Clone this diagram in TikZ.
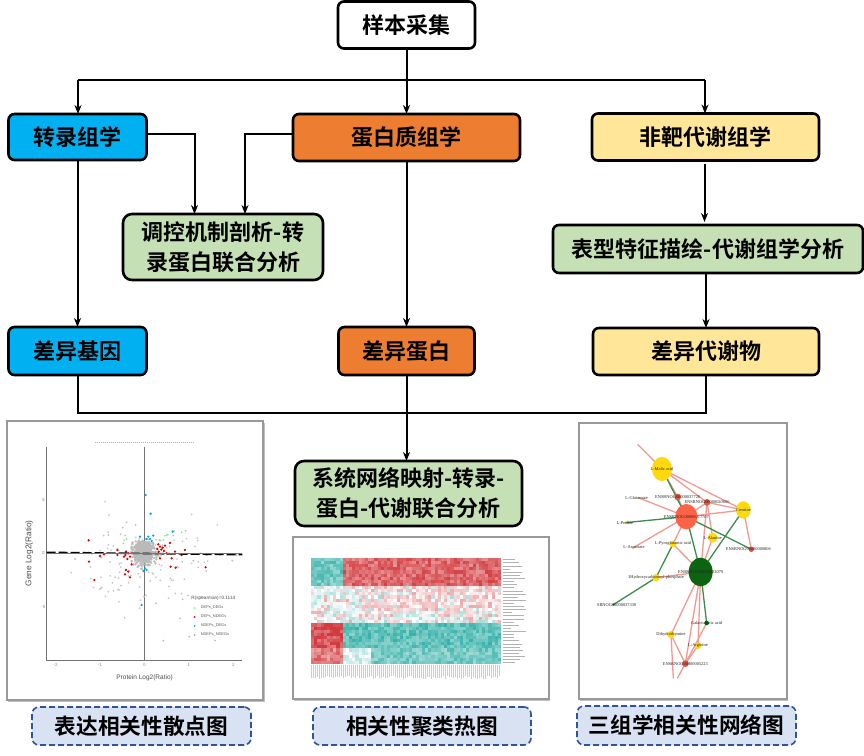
\documentclass[tikz,border=0pt]{standalone}
\usepackage{fontspec}
\newfontfamily\cjk[BoldFont={Noto Sans CJK SC Bold}]{Noto Sans CJK SC}
\newfontfamily\lsans{Liberation Sans}
\newfontfamily\lserif{Liberation Serif}
\usetikzlibrary{arrows.meta}
\definecolor{cblue}{HTML}{00B0F0}
\definecolor{corange}{HTML}{ED7D31}
\definecolor{cyellow}{HTML}{FFE699}
\definecolor{cgreen}{HTML}{C5E0B4}
\definecolor{capfill}{HTML}{D9E2F3}
\definecolor{capline}{HTML}{2F5597}
\definecolor{hred}{HTML}{D23A3E}
\definecolor{hteal}{HTML}{35B0A8}
\definecolor{npink}{HTML}{F29A90}
\definecolor{ngreen}{HTML}{3F8A4F}
\definecolor{nyellow}{HTML}{FFD90F}
\definecolor{nred}{HTML}{E8503F}
\definecolor{norange}{HTML}{FF6347}
\definecolor{ndark}{HTML}{0B6410}
\tikzset{
  flowbox/.style={draw=black,line width=2.6pt,rounded corners=6pt,inner sep=0pt,outer sep=0pt,
    font=\cjk\bfseries\fontsize{22}{30}\selectfont,align=center},
  flowline/.style={draw=black,line width=2pt},
  flowarrow/.style={flowline,-{Stealth[length=9pt,width=7pt]}},
  captionbox/.style={draw=capline,fill=capfill,line width=1.6pt,dash pattern=on 6pt off 3pt,rounded corners=7pt,
    inner sep=0pt,outer sep=0pt,font=\cjk\bfseries\fontsize{21.7}{26}\selectfont},
  panel/.style={draw=black!40,fill=white,line width=1.5pt},
  pshadow/.style={fill=black!25},
  pinkedge/.style={draw=npink,line width=1.3pt},
  greenedge/.style={draw=ngreen,line width=1.3pt},
  netlabel/.style={font=\lserif\fontsize{4.4}{5}\selectfont,text=black!85,inner sep=0pt},
  plotlabel/.style={font=\lsans\fontsize{6.5}{7}\selectfont,text=black!70,inner sep=0pt},
  ticklabel/.style={font=\lsans\fontsize{4.5}{5}\selectfont,text=black!45,inner sep=0pt},
  legendlabel/.style={font=\lsans\fontsize{3.9}{5}\selectfont,text=black!65,inner sep=0pt,anchor=west},
}
\begin{document}
\begin{tikzpicture}[x=1pt,y=-1pt]
\useasboundingbox (0,0) rectangle (864,755);
\fill[white] (0,0) rectangle (864,755);

% ---------- flow boxes
\node[flowbox,fill=white,minimum width=137pt,minimum height=47pt] (sample) at (406.5,25) {样本采集};
\node[flowbox,fill=cblue,minimum width=138pt,minimum height=46pt] (trans) at (77.5,137) {转录组学};
\node[flowbox,fill=corange,minimum width=227pt,minimum height=47pt] (prot) at (406.5,137.5) {蛋白质组学};
\node[flowbox,fill=cyellow,minimum width=227pt,minimum height=47pt] (metab) at (705.5,137) {非靶代谢组学};
\node[flowbox,fill=cgreen,minimum width=200pt,minimum height=66pt,rounded corners=9pt] (reg) at (223,247) {调控机制剖析-转\\录蛋白联合分析};
\node[flowbox,fill=cgreen,minimum width=310pt,minimum height=48pt] (pheno) at (708,249) {表型特征描绘-代谢组学分析};
\node[flowbox,fill=cblue,minimum width=138pt,minimum height=48pt] (dgene) at (77.5,351) {差异基因};
\node[flowbox,fill=corange,minimum width=136pt,minimum height=48pt] (dprot) at (406.5,351) {差异蛋白};
\node[flowbox,fill=cyellow,minimum width=226pt,minimum height=47pt] (dmet) at (706,351.5) {差异代谢物};
\node[flowbox,fill=cgreen,minimum width=227pt,minimum height=65pt,rounded corners=9pt] (sys) at (408.5,493.5) {系统网络映射-转录-\\蛋白-代谢联合分析};

% ---------- connectors
\coordinate (busL) at (78,80);
\coordinate (busR) at (705,80);
\coordinate (busB) at (78,413);
\coordinate (busBR) at (706,413);
\draw[flowarrow] (sample.south) -- (prot.north);
\draw[flowline] (busL) -- (busR);
\draw[flowarrow] (busL) -- (trans.north-|busL);
\draw[flowarrow] (busR) -- (metab.north-|busR);
\coordinate (ta) at (194.5,133.5);
\coordinate (pa) at (245,133.5);
\draw[flowarrow] (trans.east|-ta) -- (ta) -- (ta|-reg.north);
\draw[flowarrow] (prot.west|-pa) -- (pa) -- (pa|-reg.north);
\coordinate (gapstart) at (704.5,164);
\coordinate (gapend) at (704.5,222);
\draw[flowarrow] (gapstart) -- (gapend);
\draw[flowarrow] (pheno.south-|busBR) -- (dmet.north-|busBR);
\draw[flowarrow] (trans.south) -- (dgene.north);
\draw[flowarrow] (prot.south) -- (dprot.north);
\draw[flowline] (dgene.south-|busB) -- (busB) -- (busBR) -- (dmet.south-|busBR);
\draw[flowarrow] (dprot.south) -- (dprot.south|-sys.north);

% ---------- scatter panel
\fill[pshadow] (8,423) rectangle (265,702);
\draw[panel] (7,421) rectangle (263,700);
\begin{scope}[shift={(0,415)},x=0.3333pt,y=-0.3333pt]
  \draw[black!30,line width=1.2pt,dash pattern=on 1pt off 1pt] (285,82) -- (582,82);
  \draw[black!55,line width=0.9pt] (140,95) -- (140,735) -- (727,735);
  \draw[black!55,line width=0.9pt] (433,95) -- (433,735);
  \pgfmathsetseed{4217}
  \foreach \i in {1,...,130}{
    \pgfmathsetmacro\px{433+(rnd+rnd+rnd-1.5)*190}
    \pgfmathsetmacro\py{430+(rnd+rnd+rnd-1.5)*130}
    \fill[black!22] (\px,\py) circle (3);
  }
  \foreach \px/\py in {225/432,300/522,305/518,325/360,380/322,368/338,407/330,548/553,540/610,568/665,490/677,645/677,432/545,468/565,697/437,620/420,660/420,710/420,580/437,602/415}{
    \fill[black!25] (\px,\py) circle (3.2);
  }
  \foreach \i in {1,...,220}{
    \pgfmathsetmacro\px{433+(rnd+rnd-1)*44}
    \pgfmathsetmacro\py{416+(rnd+rnd-1)*46}
    \fill[black!27] (\px,\py) circle (4);
  }
  \fill[black!27] (432,390) ellipse [x radius=22,y radius=12];
  \fill[black!27] (430,418) ellipse [x radius=30,y radius=26];
  \foreach \px/\py in {266/376,267/440,283/495,617/457,378/465,390/487,385/470,375/478,510/384,525/410,475/388,480/395,488/398,472/402,484/404,492/408,476/410,495/392,378/410,385/415,376/420,390/425,382/432,372/425,352/420,312/418,300/423,352/405,480/430,512/455,527/458,545/420,555/405,500/415,515/430,395/448}{
    \fill[red!85!black] (\px,\py) circle (3.8);
  }
  \foreach \px/\py in {437/240,452/296,420/365,425/570,445/365,455/378,440/372,460/362,450/372,518/350,435/460,440/465,430/468}{
    \fill[cblue!80!teal] (\px,\py) circle (3.8);
  }
  \foreach \px/\py in {545/352,557/347,520/362,490/375,380/372,370/385,500/360,478/375}{
    \fill[green!60!white] (\px,\py) circle (3);
  }
  \draw[black,line width=1.6pt,dash pattern=on 9pt off 3pt] (140,412) -- (727,419);
  \draw[black!55,line width=0.5pt] (140,415) -- (727,415);
  \node[plotlabel,font=\lsans\fontsize{8.3}{9}\selectfont,rotate=90] (ylab) at (88,415) {Gene Log2(Ratio)};
  \node[plotlabel] (xlab) at (434,790) {Protein Log2(Ratio)};
  \node[ticklabel] (xt1) at (167,749) {-2};
  \node[ticklabel] (xt2) at (300,749) {-1};
  \node[ticklabel] (xt3) at (433,749) {0};
  \node[ticklabel] (xt4) at (567,749) {1};
  \node[ticklabel] (xt5) at (700,749) {2};
  \node[ticklabel] (yt1) at (130,254) {5};
  \node[ticklabel] (yt2) at (130,415) {0};
  \node[ticklabel] (yt3) at (130,577) {-5};
  \node[plotlabel,font=\lsans\fontsize{4.7}{6}\selectfont] (rlab) at (640,550) {R(spearman)=0.1114};
  \fill[green!50!white] (584,579) circle (3);
  \fill[red!85!black] (584,606) circle (3);
  \fill[cblue!80!teal] (584,633) circle (3);
  \fill[black!35] (584,660) circle (3);
  \node[legendlabel] (lg1) at (602,579) {DEPs\_DEGs};
  \node[legendlabel] (lg2) at (602,606) {DEPs\_NDEGs};
  \node[legendlabel] (lg3) at (602,633) {NDEPs\_DEGs};
  \node[legendlabel] (lg4) at (602,660) {NDEPs\_NDEGs};
\end{scope}

% ---------- heatmap panel
\fill[pshadow] (294,539) rectangle (550,701);
\draw[panel] (293,537) rectangle (549,699);
\begin{scope}[shift={(311,558)}]
  \pgfmathsetseed{97}
  \foreach \cl in {0,...,59}{
    \foreach \rw in {0,...,33}{
      \def\tone{hred}\def\amp{50}\def\spread{42}
      \ifnum\rw<9
        \ifnum\cl<10 \def\tone{hteal}\def\amp{70}\else\def\tone{hred}\def\amp{76}\fi
      \else\ifnum\rw<21
        \def\amp{22}\def\spread{44}
        \pgfmathparse{rnd<(\cl<16?0.75:(\rw>16?0.55:0.12))?1:0}
        \ifdim\pgfmathresult pt>0.5pt \def\tone{hteal}\fi
      \else\ifnum\rw<29
        \ifnum\cl<10 \def\tone{hred}\def\amp{88}\else\def\tone{hteal}\def\amp{78}\fi
      \else
        \ifnum\cl<10 \def\tone{hred}\def\amp{65}\else
          \ifnum\cl<19 \def\tone{hteal}\def\amp{18}\else\def\tone{hteal}\def\amp{68}\fi
        \fi
      \fi\fi\fi
      \pgfmathtruncatemacro\pc{max(0,min(100,\amp+\spread*(rnd-0.5)))}
      \fill[\tone!\pc!white] ({\cl*190/60},{\rw*106/34}) rectangle ++(3.4,3.4);
    }
  }
  \foreach \rw in {0,...,33}{
    \pgfmathsetmacro\wd{6+18*rnd}
    \draw[black!30,line width=0.4pt] (192,{\rw*3.12+1.5}) -- ++(\wd,0);
  }
  \foreach \cl in {0,...,94}{
    \pgfmathsetmacro\ht{11+3*rnd}
    \draw[black!20,line width=1.3pt] ({\cl*2+0.5},107) -- ++(0,\ht);
  }
\end{scope}

% ---------- network panel
\fill[pshadow] (580,425) rectangle (788,701);
\draw[panel] (579,423) rectangle (787,699);
\begin{scope}[shift={(570,415)},x=0.3333pt,y=-0.3333pt]
  \coordinate (cMal) at (276,162);
  \coordinate (cOra) at (349,305);
  \coordinate (cGre) at (392,471);
  \coordinate (cCre) at (520,285);
  \coordinate (cR1) at (323,246);
  \coordinate (cR2) at (411,262);
  \coordinate (cAla) at (428,368);
  \coordinate (cPyr) at (309,387);
  \coordinate (cHyd) at (258,488);
  \coordinate (cR3) at (544,403);
  \coordinate (cGal) at (410,624);
  \coordinate (cDih) at (303,659);
  \coordinate (cArg) at (384,692);
  \coordinate (cR4) at (346,746);
  \coordinate (cGlu) at (205,248);
  \coordinate (cPro) at (165,323);
  \coordinate (cAsp) at (190,398);
  \coordinate (cSrn) at (130,569);
  \coordinate (endA) at (203,88);
  \coordinate (endB) at (310,790);
  \coordinate (endC) at (322,790);
  \foreach \ea/\eb in {endA/cMal,cMal/cR1,cMal/cR2,cMal/cCre,cGlu/cOra,cAsp/cOra,cOra/cCre,cOra/cR1,cOra/cR2,cR2/cCre,cOra/cPyr,cPyr/cGre,cHyd/cGre,cR2/cGre,cAla/cGre,cR2/cAla,cCre/cR3,cGre/cDih,cGre/cArg,cGre/cR4,cGal/cR4,cDih/cR4,cArg/cR4,cDih/endB,cR4/endC}{
    \draw[pinkedge] (\ea) -- (\eb);
  }
  \foreach \ea/\eb in {cMal/cOra,cPro/cOra,cOra/cGre,cOra/cR3,cCre/cGre,cPyr/cHyd,cHyd/cSrn,cGre/cGal}{
    \draw[greenedge] (\ea) -- (\eb);
  }
  \fill[nyellow] (cMal) ellipse [x radius=30,y radius=36];
  \fill[norange] (cOra) ellipse [x radius=33,y radius=38];
  \fill[ndark] (cGre) ellipse [x radius=36,y radius=43];
  \fill[nyellow] (cCre) ellipse [x radius=22,y radius=26];
  \foreach \nn/\nr/\cc in {cR1/10/nred,cR2/10/nred,cAla/15/nyellow,cPyr/10/nyellow,cHyd/11/nyellow,cR3/8/nred,cGal/7/ndark,cDih/11/nyellow,cArg/10/nyellow,cR4/10/nred,cGlu/3/nyellow,cPro/3/nyellow,cAsp/3/nyellow,cSrn/3/ndark}{
    \fill[\cc] (\nn) circle (\nr);
  }
  \node[netlabel] (lMal) at (276,162) {L-Malic acid};
  \node[netlabel] (lOra) at (349,305) {ENSRNOG00000017707};
  \node[netlabel] (lGre) at (392,471) {ENSRNOG00000003079};
  \node[netlabel] (lCre) at (520,285) {Creatine};
  \node[netlabel] (lR1) at (323,247) {ENSRNOG00000037726};
  \node[netlabel] (lR2) at (411,262) {ENSRNOG00000020606};
  \node[netlabel] (lAla) at (428,368) {L-Alanine};
  \node[netlabel] (lPyr) at (309,386) {L-Pyroglutamic acid};
  \node[netlabel] (lHyd) at (258,488) {3Hydroxycarbamoyl-phosphate};
  \node[netlabel] (lR3) at (535,403) {ENSRNOG00000000806};
  \node[netlabel] (lGal) at (410,624) {Galacturonic acid};
  \node[netlabel] (lDih) at (303,659) {Dihydrothymine};
  \node[netlabel] (lArg) at (384,692) {L-Arginine};
  \node[netlabel] (lR4) at (346,747) {ENSRNOG00000005223};
  \node[netlabel] (lGlu) at (200,248) {L-Glutamate};
  \node[netlabel] (lPro) at (165,323) {L-Proline};
  \node[netlabel] (lAsp) at (192,398) {L-Aspartate};
  \node[netlabel] (lSrn) at (140,569) {SRNOG00000037330};
\end{scope}

% ---------- captions
\node[captionbox,minimum width=219pt,minimum height=38pt] (cap1) at (141.5,726) {表达相关性散点图};
\node[captionbox,minimum width=218pt,minimum height=38pt] (cap2) at (422,726) {相关性聚类热图};
\node[captionbox,minimum width=219pt,minimum height=39pt] (cap3) at (686.5,725.5) {三组学相关性网络图};
\end{tikzpicture}
\end{document}
